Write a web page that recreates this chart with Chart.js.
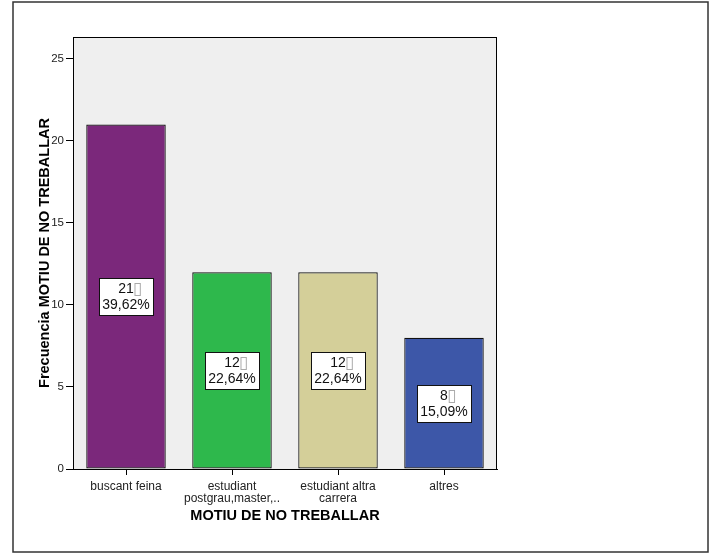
<!DOCTYPE html>
<html><head><meta charset="utf-8">
<script src="https://cdn.jsdelivr.net/npm/chart.js@4/dist/chart.umd.min.js"></script>
<style>html,body{margin:0;padding:0;background:#fff;}canvas{display:block;}</style>
</head><body>
<canvas id="c" width="715" height="553"></canvas>
<script>
const categories = [["buscant feina"], ["estudiant", "postgrau,master,.."], ["estudiant altra", "carrera"], ["altres"]];
const counts = [21, 12, 12, 8];
const percents = ["39,62%", "22,64%", "22,64%", "15,09%"];
const yTicks = [0, 5, 10, 15, 20, 25];
const yMax = 26.34;
const xTitle = "MOTIU DE NO TREBALLAR";
const yTitle = "Frecuencia MOTIU DE NO TREBALLAR";

const FONT = "'Liberation Sans', Arial, sans-serif";

const framePlugin = {
  id: 'frame',
  beforeDraw(chart) {
    const ctx = chart.ctx, a = chart.chartArea;
    ctx.save();
    ctx.fillStyle = '#fff';
    ctx.fillRect(0, 0, chart.width, chart.height);
    ctx.strokeStyle = '#333';
    ctx.lineWidth = 1.5;
    ctx.strokeRect(13, 2, 695, 550);
    ctx.fillStyle = '#EFEFEF';
    ctx.fillRect(a.left, a.top, a.right - a.left, a.bottom - a.top);
    ctx.strokeStyle = '#000';
    ctx.lineWidth = 1;
    ctx.strokeRect(a.left + 0.5, a.top + 0.5, a.right - a.left - 1, a.bottom - a.top);
    ctx.restore();
  },
  afterDatasetsDraw(chart) {
    const ctx = chart.ctx;
    const meta = chart.getDatasetMeta(0);
    ctx.save();
    meta.data.forEach((bar, i) => {
      const cx = bar.x;
      const cy = (bar.y + bar.base) / 2;
      const w = 54, h = 37;
      const x0 = Math.round(cx - w / 2) + 0.5, y0 = Math.round(cy - h / 2) + 0.5;
      ctx.fillStyle = '#fff';
      ctx.fillRect(x0, y0, w, h);
      ctx.strokeStyle = '#111';
      ctx.lineWidth = 1;
      ctx.strokeRect(x0, y0, w, h);
      ctx.font = '14px ' + FONT;
      ctx.textBaseline = 'middle';
      ctx.fillStyle = '#111';
      const t1 = String(counts[i]);
      const w1 = ctx.measureText(t1).width;
      ctx.textAlign = 'left';
      ctx.fillText(t1, cx - w1 / 2, y0 + 11);
      ctx.fillStyle = '#aaa';
      ctx.font = '17px DejaVu Sans';
      ctx.fillText('\u25AF', cx + w1 / 2 - 1, y0 + 11);
      ctx.font = '14px ' + FONT;
      ctx.fillStyle = '#111';
      ctx.textAlign = 'center';
      ctx.fillText(percents[i], cx, y0 + 27);
    });
    ctx.restore();
  }
};

new Chart(document.getElementById('c'), {
  type: 'bar',
  data: {
    labels: categories,
    datasets: [{
      data: counts,
      backgroundColor: ['#7B287B', '#2EB84C', '#D4CF99', '#3D57A8'],
      borderColor: '#111',
      borderWidth: 1.2,
      borderSkipped: false,
      categoryPercentage: 1,
      barPercentage: 0.75
    }]
  },
  options: {
    responsive: false,
    animation: false,
    devicePixelRatio: 1,
    layout: { padding: { left: 0, top: 37, right: 218, bottom: 0 } },
    plugins: { legend: { display: false }, tooltip: { enabled: false } },
    scales: {
      x: {
        afterFit(s) { s.height = 84; },
        grid: { display: true, drawOnChartArea: false, offset: false, tickLength: 6, color: '#000' },
        border: { display: true, color: '#000' },
        ticks: { color: '#222', font: { family: FONT, size: 12, lineHeight: 1.05 }, padding: 5, maxRotation: 0, autoSkip: false },
        title: { display: true, text: xTitle, color: '#000', font: { family: FONT, size: 14.5, weight: 'bold' }, padding: { top: 0, bottom: 28 } }
      },
      y: {
        min: 0, max: yMax,
        afterFit(s) { s.width = 73; },
        afterBuildTicks(s) { s.ticks = yTicks.map(v => ({ value: v })); },
        grid: { display: true, drawOnChartArea: false, tickLength: 7, color: '#000' },
        border: { display: true, color: '#000' },
        ticks: { color: '#222', font: { family: FONT, size: 11.5 }, padding: 2 },
        title: { display: true, text: yTitle, color: '#000', font: { family: FONT, size: 14.5, weight: 'bold' }, padding: { top: 36, bottom: 0 } }
      }
    }
  },
  plugins: [framePlugin]
});
</script>
</body></html>
